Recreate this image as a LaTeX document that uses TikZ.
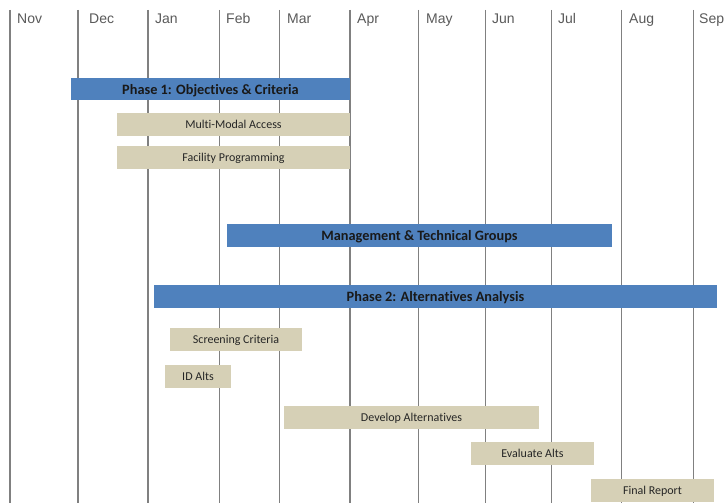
\documentclass[tikz,border=0pt]{standalone}
\usepackage{fontspec}
\setmainfont[Ligatures={NoCommon}]{Carlito}
\newfontfamily\monthfont{Liberation Sans}
\definecolor{barblue}{HTML}{4F81BD}
\definecolor{bartan}{HTML}{D6D0B6}
\definecolor{gridgray}{HTML}{808080}
\definecolor{monthgray}{HTML}{5A5A5A}
\begin{document}
\begin{tikzpicture}[x=1pt,y=-1pt,
  grid/.style={draw=gridgray,line width=1pt},
  gridthick/.style={draw=gridgray,line width=1.7pt},
  month/.style={anchor=west,inner sep=0pt,text height=10.4pt,text depth=0pt,font=\monthfont\fontsize{14}{15}\selectfont,text=monthgray},
  phasebar/.style={fill=barblue,inner sep=0pt,minimum height=22.7pt,text height=10.6pt,text depth=0pt,font=\bfseries\fontsize{14.3}{16}\selectfont,text=black!90},
  taskbar/.style={fill=bartan,inner sep=0pt,minimum height=22.7pt,text height=8.2pt,text depth=0pt,font=\fontsize{12}{14}\selectfont,text=black!85}]
\useasboundingbox[fill=white] (0,0) rectangle (725,503);
% grid lines
\foreach \x in {10,78,148,350} \draw[gridthick] (\x,10) -- (\x,503);
\foreach \x in {219,279,418,485,551,621,693} \draw[grid] (\x,10) -- (\x,503);
% month labels
\node[month] (nov) at (17,18) {Nov};
\node[month] (dec) at (89,18) {Dec};
\node[month] (jan) at (155,18) {Jan};
\node[month] (feb) at (226,18) {Feb};
\node[month] (mar) at (287,18) {Mar};
\node[month] (apr) at (357,18) {Apr};
\node[month] (may) at (426,18) {May};
\node[month] (jun) at (492,18) {Jun};
\node[month] (jul) at (558,18) {Jul};
\node[month] (aug) at (629,18) {Aug};
\node[month] (sep) at (699,18) {Sep};
% bars
\node[phasebar,minimum width=279pt] (p1) at (210.5,89) {Phase 1: Objectives \& Criteria};
\node[taskbar,minimum width=233pt] (mma) at (233.5,124.5) {Multi-Modal Access};
\node[taskbar,minimum width=233pt] (fp) at (233.5,157.5) {Facility Programming};
\node[phasebar,minimum width=385pt] (mtg) at (419.5,235.5) {Management \& Technical Groups};
\node[phasebar,minimum width=563pt] (p2) at (435.5,296.5) {Phase 2: Alternatives Analysis};
\node[taskbar,minimum width=132pt] (sc) at (236,339.5) {Screening Criteria};
\node[taskbar,minimum width=66pt] (ida) at (198,376.5) {ID Alts};
\node[taskbar,minimum width=255pt] (da) at (411.5,417.5) {Develop Alternatives};
\node[taskbar,minimum width=123pt] (ea) at (532.5,453.5) {Evaluate Alts};
\node[taskbar,minimum width=123pt] (fr) at (652.5,490.5) {Final Report};
\end{tikzpicture}
\end{document}
